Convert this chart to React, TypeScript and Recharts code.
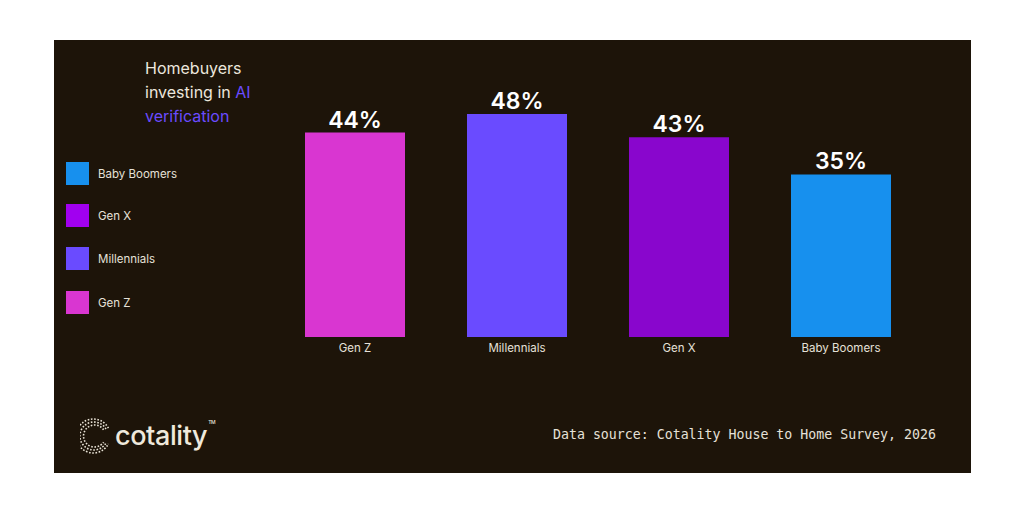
import { BarChart, Bar, XAxis, YAxis, Cell, LabelList } from 'recharts';

// Share of homebuyers investing in AI verification, by generation
const generations = ['Gen Z', 'Millennials', 'Gen X', 'Baby Boomers'];
const shares = [44, 48, 43, 35];
const barColors = ['#d936d1', '#6a4bff', '#8906cd', '#1790ee'];

// legend runs top to bottom in reverse order
const legendLabels = ['Baby Boomers', 'Gen X', 'Millennials', 'Gen Z'];
const legendColors = ['#1790ee', '#a100f0', '#6a4bff', '#d936d1'];
const legendTops = [162, 204, 247, 291];

const data = generations.map((g, i) => ({ name: g, value: shares[i], color: barColors[i] }));

const BG = '#1d1409';
const SANS = 'Inter, "Noto Sans", Arial, sans-serif';

function Logo() {
  // dotted "C" mark next to the wordmark
  const arcs = [13, 10, 7];
  return (
    <svg width={36} height={40} viewBox="0 0 36 40" style={{ position: 'absolute', left: 80, top: 416 }}>
      {arcs.map((r, i) => (
        <path
          key={r}
          d={`M ${18 + r * 0.8} ${20 - r * 0.6 - i} A ${r + 4} ${r + 4} 0 1 0 ${18 + r * 0.8} ${20 + r * 0.6 + i}`}
          fill="none"
          stroke="#e9e3d6"
          strokeWidth={1.6}
          strokeDasharray="1.6 1.6"
        />
      ))}
    </svg>
  );
}

export default function App() {
  return (
    <div style={{ position: 'absolute', left: 0, top: 0, width: 1024, height: 512, background: '#ffffff', fontFamily: SANS }}>
      <div style={{ position: 'absolute', left: 54, top: 40, width: 917, height: 433, background: BG }} />

      <div style={{ position: 'absolute', left: 145, top: 56, fontSize: 16, lineHeight: '24px', color: '#ece7dd' }}>
        Homebuyers
        <br />
        investing in <span style={{ color: '#6a4bff' }}>AI</span>
        <br />
        <span style={{ color: '#6a4bff' }}>verification</span>
      </div>

      {legendLabels.map((label, i) => (
        <div key={label} style={{ position: 'absolute', left: 66, top: legendTops[i], height: 23, display: 'flex', alignItems: 'center' }}>
          <div style={{ width: 23, height: 23, background: legendColors[i] }} />
          <span style={{ marginLeft: 9, fontSize: 11.5, color: '#e6e1d8' }}>{label}</span>
        </div>
      ))}

      <div style={{ position: 'absolute', left: 0, top: 0 }}>
        <BarChart
          width={1024}
          height={512}
          data={data}
          margin={{ top: 114, right: 102, bottom: 145, left: 274 }}
          barCategoryGap={31}
        >
          <XAxis
            dataKey="name"
            axisLine={false}
            tickLine={false}
            tickSize={0}
            tickMargin={7}
            height={30}
            tick={{ fill: '#e6e1d8', fontSize: 11.5, fontFamily: SANS }}
            interval={0}
          />
          <YAxis hide domain={[0, 48]} width={0} />
          <Bar dataKey="value" isAnimationActive={false}>
            {data.map((d) => (
              <Cell key={d.name} fill={d.color} />
            ))}
            <LabelList
              dataKey="value"
              position="top"
              offset={5}
              formatter={(v: number) => `${v}%`}
              style={{ fill: '#ffffff', fontSize: 23, fontWeight: 600, fontFamily: SANS }}
            />
          </Bar>
        </BarChart>
      </div>

      <Logo />
      <div style={{ position: 'absolute', left: 115, top: 419, fontSize: 27, fontWeight: 500, color: '#efe9dc', letterSpacing: -0.4 }}>
        cotality<span style={{ fontSize: 5, verticalAlign: 'top', marginLeft: 1 }}>TM</span>
      </div>

      <div
        style={{
          position: 'absolute',
          left: 553,
          top: 427,
          fontSize: 13.25,
          fontFamily: '"DejaVu Sans Mono", "Liberation Mono", monospace',
          color: '#e6e1d8',
          whiteSpace: 'nowrap',
        }}
      >
        Data source: Cotality House to Home Survey, 2026
      </div>
    </div>
  );
}
